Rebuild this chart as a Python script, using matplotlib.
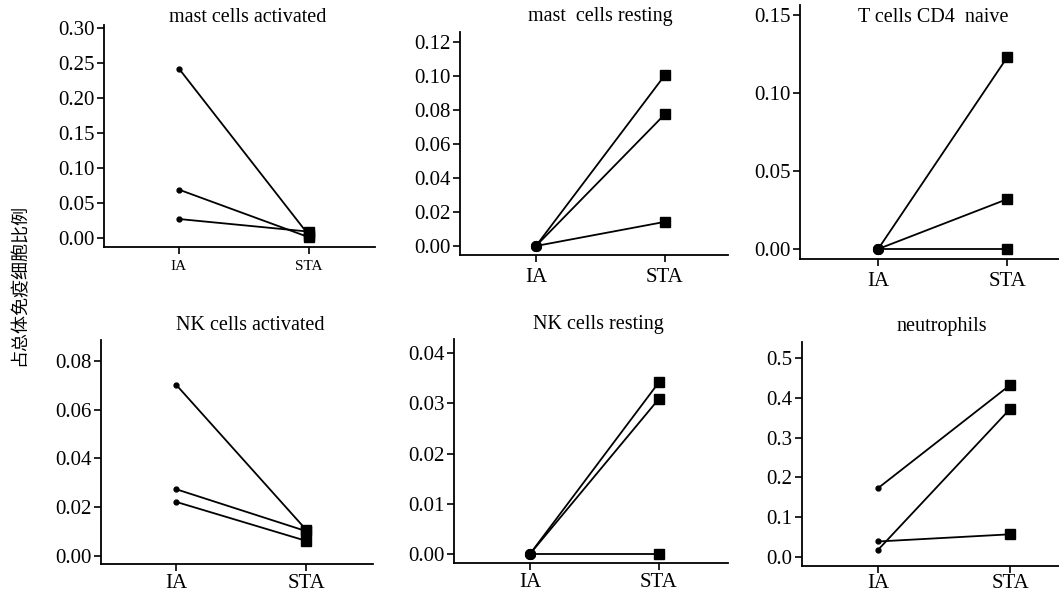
import numpy as np
import matplotlib
matplotlib.use('Agg')
from matplotlib import pyplot as plt

groups = ['IA', 'STA']

titles = ['mast cells activated', 'mast  cells resting', 'T cells CD4  naive',
          'NK cells activated', 'NK cells resting', 'neutrophils']

# IA values, STA values (three paired samples per panel)
mast_act_ia = [0.242, 0.069, 0.027]
mast_act_sta = [0.004, 0.001, 0.009]
mast_rest_ia = [0.0, 0.0, 0.0]
mast_rest_sta = [0.1005, 0.0775, 0.0142]
cd4_ia = [0.0, 0.0, 0.0]
cd4_sta = [0.123, 0.032, 0.0]
nk_act_ia = [0.0703, 0.0274, 0.0222]
nk_act_sta = [0.0108, 0.0102, 0.0062]
nk_rest_ia = [0.0, 0.0, 0.0]
nk_rest_sta = [0.0342, 0.0309, 0.0]
neut_ia = [0.173, 0.039, 0.018]
neut_sta = [0.432, 0.057, 0.372]

ia_data = [mast_act_ia, mast_rest_ia, cd4_ia, nk_act_ia, nk_rest_ia, neut_ia]
sta_data = [mast_act_sta, mast_rest_sta, cd4_sta, nk_act_sta, nk_rest_sta, neut_sta]

yticks = [np.arange(0, 0.301, 0.05), np.arange(0, 0.121, 0.02), np.arange(0, 0.151, 0.05),
          np.arange(0, 0.081, 0.02), np.arange(0, 0.041, 0.01), np.arange(0, 0.51, 0.1)]
ytick_fmt = ['%.2f', '%.2f', '%.2f', '%.2f', '%.2f', '%.1f']
ylims = [(-0.013, 0.3043), (-0.0053, 0.1259), (-0.0064, 0.1564),
         (-0.0033, 0.0886), (-0.0018, 0.0428), (-0.0226, 0.540)]
xlims = [(-0.577, 1.51), (-0.589, 1.49), (-0.605, 1.40),
         (-0.577, 1.515), (-0.589, 1.535), (-0.576, 1.37)]

# axes boxes in pixels: left, top, right, bottom
W, H = 1059, 594
boxes = [(104, 25, 375, 247), (460, 32, 728, 255), (800, 5, 1059, 259),
         (101, 340, 373, 564), (454, 339, 728, 563), (802, 342, 1059, 566)]
title_pos = [(248, 17), (600, 17), (933, 18), (250, 325), (598, 325), (942, 326)]
ia_ms = [3.5, 7, 7, 3.5, 7, 3.5]
xpads = [4, 4, 4, 2, 2, 0.5]

plt.rcParams['font.family'] = ['Liberation Serif', 'Noto Sans CJK SC']

fig = plt.figure(figsize=(W / 100, H / 100), dpi=100)

for i in range(6):
    l, t, r, b = boxes[i]
    ax = fig.add_axes([l / W, 1 - b / H, (r - l) / W, (b - t) / H])
    for a, s in zip(ia_data[i], sta_data[i]):
        ax.plot([0, 1], [a, s], color='black', lw=1.3, zorder=2)
    ax.plot(np.zeros(3), ia_data[i], 'o', color='black', ms=ia_ms[i], zorder=3)
    ax.plot(np.ones(3), sta_data[i], 's', color='black', ms=7, zorder=3)
    ax.set_xlim(*xlims[i])
    ax.set_ylim(*ylims[i])
    ax.set_xticks([0, 1])
    ax.set_xticklabels(groups, fontsize=11 if i == 0 else 15)
    ax.set_yticks(yticks[i])
    ax.set_yticklabels([ytick_fmt[i] % v for v in yticks[i]], fontsize=15)
    ax.spines['top'].set_visible(False)
    ax.spines['right'].set_visible(False)
    ax.spines['left'].set_linewidth(1.3)
    ax.spines['bottom'].set_linewidth(1.3)
    ax.tick_params(axis='both', length=5, width=1.2, pad=2)
    ax.tick_params(axis='x', pad=xpads[i])
    ax.patch.set_alpha(0)
    fig.text(title_pos[i][0] / W, 1 - title_pos[i][1] / H, titles[i],
             ha='center', va='center', fontsize=14.5)

fig.text(19 / W, 1 - 285 / H, '占总体免疫细胞比例', rotation=90, ha='center', va='center',
         fontsize=13, family=['Noto Sans CJK SC', 'DejaVu Sans'])

fig.savefig('out.png', dpi=100)
